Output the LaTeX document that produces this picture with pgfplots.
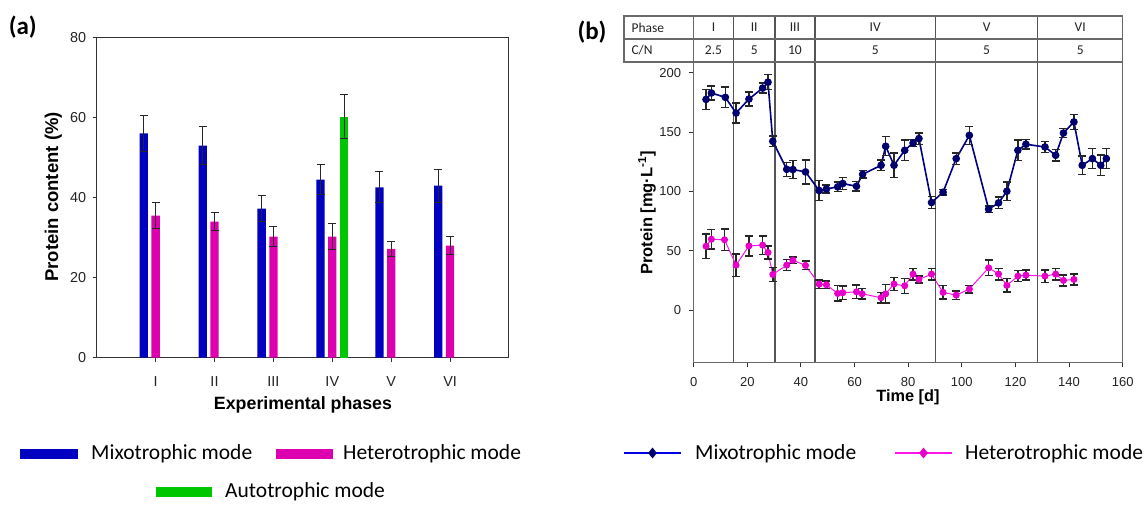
\documentclass[border=0pt]{standalone}
\usepackage{fontspec}
\setmainfont{Liberation Sans}
\newfontfamily\calibri{Carlito}
\usepackage{pgfplots}
\usepackage{pgfplotstable}
\pgfplotsset{compat=1.18}
\usetikzlibrary{shapes.geometric}

\definecolor{barblue}{RGB}{0,0,192}
\definecolor{barmag}{RGB}{220,0,175}
\definecolor{bargreen}{RGB}{0,198,0}
\definecolor{navyline}{RGB}{0,0,128}
\definecolor{navymark}{RGB}{0,0,110}
\definecolor{magline}{RGB}{255,20,235}
\definecolor{magmark}{RGB}{230,0,200}
\definecolor{framegray}{RGB}{50,50,50}
\definecolor{tablegray}{RGB}{105,105,105}
\definecolor{phasegray}{RGB}{85,85,85}
\definecolor{ticktext}{RGB}{35,35,35}

% panel (a): protein content per phase (x = phase index)
\pgfplotstableread{
x y e
1 56.1 4.5
2 53.0 4.8
3 37.3 3.3
4 44.5 3.8
5 42.6 3.9
6 43.0 4.1
}\barmixo
\pgfplotstableread{
x y e
1 35.5 3.3
2 34.0 2.3
3 30.3 2.4
4 30.3 3.2
5 27.2 1.9
6 28.0 2.2
}\barhetero
\pgfplotstableread{
x y e
4 60.3 5.4
}\barauto

% panel (b): protein concentration over time
\pgfplotstableread{
t y e
4.6 177.5 8.4
6.6 182.9 5.9
11.8 179.2 8.7
15.8 166.0 8.4
20.6 177.8 5.9
25.7 187.0 4.2
27.7 192.0 6.3
29.5 142.2 4.6
34.7 118.6 5.9
37.0 118.4 7.6
41.7 116.4 10.1
46.8 100.7 8.4
49.5 102.0 3.5
53.7 103.8 4.0
55.6 106.6 5.0
60.7 104.3 4.0
63.0 114.4 3.0
69.9 122.0 4.6
71.6 138.0 8.0
74.7 122.0 10.5
78.7 134.6 8.8
81.8 140.8 2.8
84.0 144.5 4.8
88.7 90.6 5.2
93.0 99.3 2.5
97.9 127.6 4.9
102.8 147.2 7.7
110.0 85.0 2.8
113.7 90.3 4.8
116.8 100.1 7.8
120.9 134.6 8.8
123.9 139.7 4.0
131.0 137.4 4.5
135.0 130.4 4.9
137.9 149.2 3.8
141.8 158.5 6.3
144.9 122.0 7.9
148.7 127.6 8.4
151.8 122.0 8.8
153.9 127.6 8.4
}\timemixo
\pgfplotstableread{
t y e
4.6 53.8 10.2
6.6 59.7 8.4
11.5 59.2 9.1
15.8 37.9 9.4
20.6 54.1 8.4
25.7 54.7 7.8
27.7 48.5 5.6
29.5 30.0 6.0
34.7 37.9 4.5
37.0 42.0 2.8
41.7 37.6 3.6
46.8 21.9 3.6
49.5 21.3 3.3
53.7 14.0 6.5
55.6 14.6 5.7
60.7 15.4 5.6
62.8 13.7 4.5
69.9 10.4 4.5
71.6 13.7 7.7
74.7 21.9 5.3
78.7 20.5 6.3
81.8 30.3 4.9
84.0 25.8 2.9
88.7 30.3 4.9
93.0 14.9 5.6
97.9 12.6 3.6
102.8 17.7 3.2
110.0 35.6 6.6
113.7 30.3 4.9
116.8 20.8 5.7
120.9 28.6 4.6
123.9 29.4 4.2
131.0 28.6 5.2
135.0 30.3 4.9
137.9 25.0 4.6
141.8 25.8 4.6
}\timehetero

\pgfplotsset{
  errbar/.style={error bars/.cd, y dir=both, y explicit,
    error bar style={color=black!85, line width=#1},
    error mark options={rotate=90, mark size=4pt, color=black!85, line width=#1}},
  errbar/.default=1.1pt,
}

\begin{document}
\begin{tikzpicture}[x=1pt,y=1pt]
\useasboundingbox (0,0) rectangle (1148,504);

% ---------- (a) ----------
\begin{axis}[
  at={(96.7pt,146.3pt)}, anchor=south west, scale only axis,
  width=412.3pt, height=320pt,
  xmin=0, xmax=7, ymin=0, ymax=80,
  xtick={1,...,6}, xticklabels={I,II,III,IV,V,VI},
  ytick={0,20,...,80},
  tick pos=left, tick align=outside, major tick length=4pt,
  every tick/.style={framegray, line width=1pt},
  axis line style={framegray, line width=1pt},
  ticklabel style={font=\fontsize{14.4}{17}\selectfont, text=ticktext},
  xticklabel style={yshift=-11pt},
  yticklabel style={xshift=-3pt},
  /pgf/number format/assume math mode=true,
  clip=false,
]
\addplot[ybar, bar width=8.3pt, bar shift=0pt, fill=barblue, draw=none, errbar]
  table[x expr=\thisrow{x}-0.2, y=y, y error=e] {\barmixo};
\addplot[ybar, bar width=8.3pt, bar shift=0pt, fill=barmag, draw=none, errbar]
  table[x=x, y=y, y error=e] {\barhetero};
\addplot[ybar, bar width=8.3pt, bar shift=0pt, fill=bargreen, draw=none, errbar]
  table[x expr=\thisrow{x}+0.2, y=y, y error=e] {\barauto};
\end{axis}
\node[rotate=90, font=\bfseries\fontsize{18.5}{21}\selectfont] at (53.3,307) {Protein content (\%)};
\node[font=\bfseries\fontsize{17.8}{20}\selectfont] at (303,99) {Experimental phases};
\node[font=\calibri\bfseries\fontsize{25}{28}\selectfont] at (22.8,477) {(a)};

% ---------- (b) ----------
\begin{axis}[
  at={(693.7pt,141.7pt)}, anchor=south west, scale only axis,
  width=429pt, height=300.3pt,
  xmin=0, xmax=160, ymin=-44, ymax=209,
  xtick={0,20,...,160}, ytick={0,50,...,200},
  tick pos=left, tick align=outside, major tick length=5pt,
  every tick/.style={framegray, line width=1pt},
  axis line style={tablegray, line width=1.1pt},
  ticklabel style={font=\fontsize{13}{15}\selectfont, text=ticktext},
  xticklabel style={yshift=-7pt},
  yticklabel style={xshift=-4pt},
  /pgf/number format/assume math mode=true,
  clip=false,
]
\foreach \p in {14.8,30.3,45.2,90.2,128.3}{
  \edef\tmp{\noexpand\draw[phasegray, line width=1.3pt] (axis cs:\p,-44) -- (axis cs:\p,247.75);}
  \tmp
}
\addplot[color=navyline, line width=1.6pt, mark=*, mark size=3pt,
  mark options={fill=navymark, draw=navymark}, errbar=1.4pt]
  table[x=t, y=y, y error=e] {\timemixo};
\addplot[color=magline, line width=1pt, mark=*, mark size=3pt,
  mark options={fill=magmark, draw=magmark}, errbar=1.4pt]
  table[x=t, y=y, y error=e] {\timehetero};
\end{axis}
% phase table above the plot
\draw[tablegray, line width=1.1pt] (624,442) rectangle (1122.7,488);
\draw[tablegray, line width=1.1pt] (624,465) -- (1122.7,465);
\draw[tablegray, line width=1.1pt] (693.7,442) -- (693.7,488);
\begin{scope}[font=\calibri\fontsize{13.5}{16}\selectfont, text=ticktext]
\node[anchor=west] at (628,476.5) {Phase};
\node[anchor=west] at (628,453.5) {C/N};
\foreach \cx/\ph/\cn in {713.5/I/2.5, 754.2/II/5, 794.9/III/10, 875.2/IV/5, 986.6/V/5, 1080.2/VI/5}{
  \node at (\cx,476.5) {\ph};
  \node at (\cx,453.5) {\cn};
}
\end{scope}
\node[rotate=90, font=\bfseries\fontsize{16.5}{19}\selectfont] at (647,291) {Protein [mg·L\textsuperscript{-1}]};
\node[font=\bfseries\fontsize{16.3}{19}\selectfont] at (908,106.7) {Time [d]};
\node[font=\calibri\bfseries\fontsize{25}{28}\selectfont] at (592,472) {(b)};

% ---------- legends ----------
\begin{scope}[font=\calibri\fontsize{21.5}{25}\selectfont]
\fill[barblue] (20,45) rectangle (78,55);
\node[anchor=west, inner sep=0pt] at (91,50) {Mixotrophic mode};
\fill[barmag] (276,45) rectangle (333,55);
\node[anchor=west, inner sep=0pt] at (343,50) {Heterotrophic mode};
\fill[bargreen] (156,7) rectangle (212,17);
\node[anchor=west, inner sep=0pt] at (225,12) {Autotrophic mode};
\draw[blue!90!black, line width=1.6pt] (624,51) -- (681,51);
\node[diamond, fill=navymark, inner sep=0pt, minimum width=9pt, minimum height=11pt] at (652.5,51) {};
\node[anchor=west, inner sep=0pt] at (695,50) {Mixotrophic mode};
\draw[magline, line width=1.6pt] (895,51) -- (952,51);
\node[diamond, fill=magmark, inner sep=0pt, minimum width=9pt, minimum height=11pt] at (923.5,51) {};
\node[anchor=west, inner sep=0pt] at (965,50) {Heterotrophic mode};
\end{scope}
\end{tikzpicture}
\end{document}
